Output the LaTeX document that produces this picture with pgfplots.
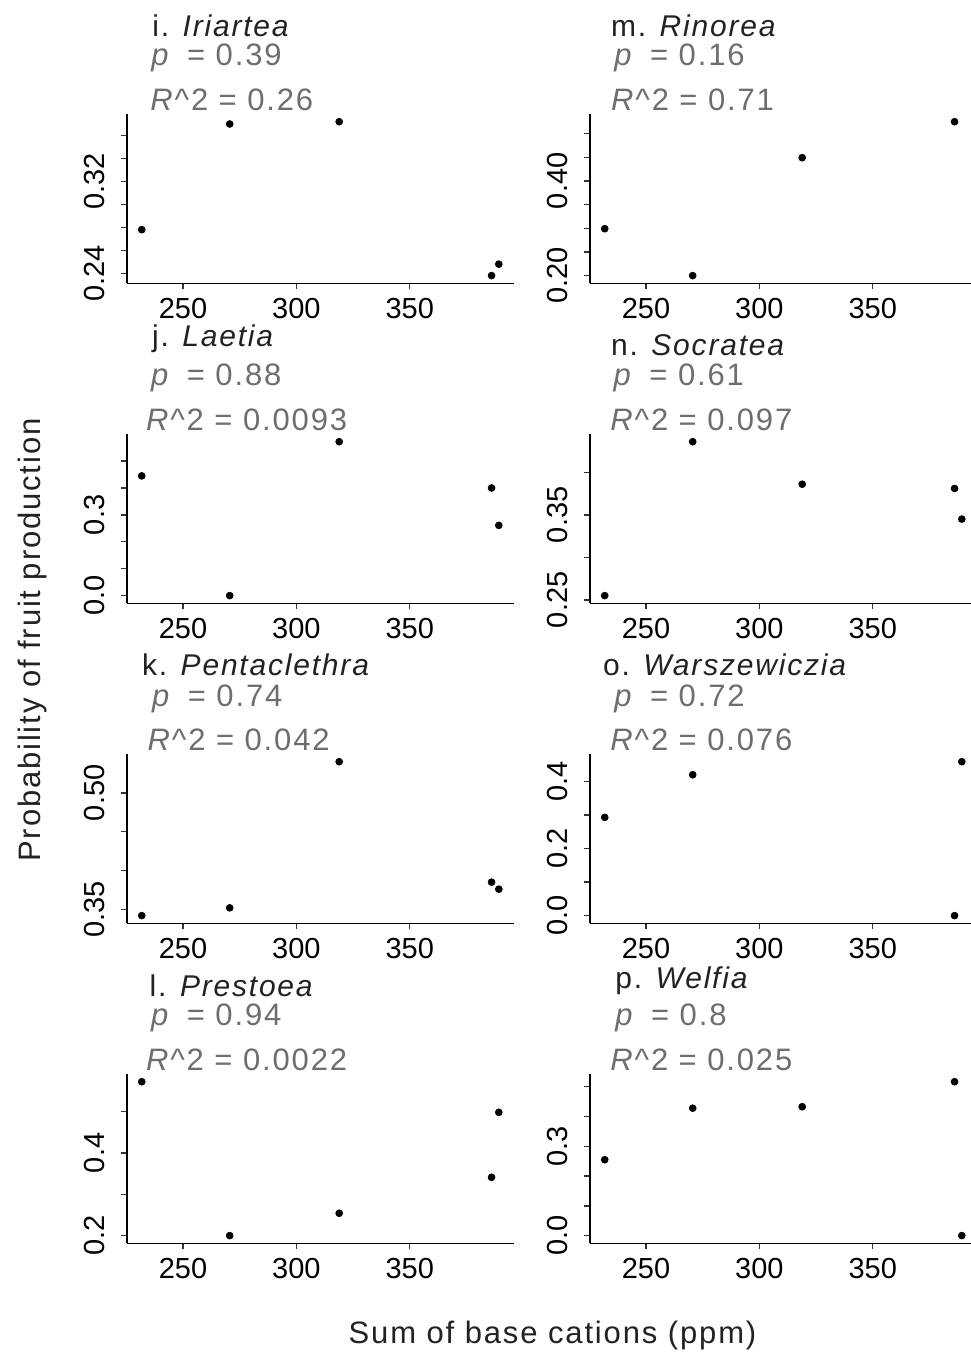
\documentclass[border=0pt]{standalone}
\usepackage{pgfplots}
\pgfplotsset{compat=1.18}
\usepackage{fontspec}
\setmainfont{Liberation Sans}
\newfontfamily\annfont{Liberation Sans}[LetterSpace=6]
\definecolor{anngray}{HTML}{6E6E6E}
\definecolor{titlegray}{HTML}{222222}
\definecolor{axgray}{HTML}{333333}

\pgfplotsset{
  panel/.style={
    scale only axis, width=193.5pt, height=84.65pt,
    xmin=225.3, xmax=396, enlarge y limits=0.05,
    axis x line*=bottom, axis y line*=left,
    axis line style={black, line width=0.8pt, -},
    tick style={axgray, line width=0.7pt},
    tick align=outside, major tick length=3pt,
    xtick={250,300,350}, xticklabels={250,300,350},
    ticklabel style={font=\fontsize{14.5}{16}\selectfont, text=black},
    /pgf/number format/assume math mode=true,
    xticklabel style={yshift=-1pt},
    yticklabel style={rotate=90, anchor=base, yshift=8.5pt},
    clip=false,
  },
  pts/.style={only marks, mark=*, mark size=1.7pt, black},
}
\newcommand{\ttl}[3]{\node[anchor=base west, inner sep=0pt, text=titlegray, font=\fontsize{15}{17}\annfont] at (#1*0.5pt, -#2*0.5pt) {#3};}
\newcommand{\ann}[3]{\node[anchor=base west, inner sep=0pt, text=anngray, font=\fontsize{15.5}{17}\annfont] at (#1*0.5pt, -#2*0.5pt) {#3};}

\begin{document}
\begin{tikzpicture}
\path[use as bounding box] (0,0) rectangle (485pt,-677.5pt);

% ---------- row 1 ----------
\begin{axis}[panel, at={(63.5pt,-141.65pt)}, anchor=south west,
  ytick={0.24,0.26,0.28,0.30,0.32,0.34,0.36}, yticklabels={0.24,,,,0.32,,}]
\addplot[pts] coordinates {(231.8,0.278) (270.6,0.370) (318.9,0.372) (386.1,0.238) (389.3,0.248)};
\end{axis}
\begin{axis}[panel, at={(295pt,-141.65pt)}, anchor=south west,
  ytick={0.20,0.25,0.30,0.35,0.40,0.45,0.50}, yticklabels={0.20,,,,0.40,,}]
\addplot[pts] coordinates {(231.8,0.299) (270.6,0.200) (318.9,0.449) (386.1,0.525)};
\end{axis}
% ---------- row 2 ----------
\begin{axis}[panel, at={(63.5pt,-301.65pt)}, anchor=south west,
  ytick={0,0.1,0.2,0.3,0.4,0.5}, yticklabels={0.0,,,0.3,,}]
\addplot[pts] coordinates {(231.8,0.445) (270.6,0.000) (318.9,0.572) (386.1,0.400) (389.3,0.261)};
\end{axis}
\begin{axis}[panel, at={(295pt,-301.65pt)}, anchor=south west,
  ytick={0.25,0.30,0.35,0.40}, yticklabels={0.25,,0.35,}]
\addplot[pts] coordinates {(231.8,0.255) (270.6,0.436) (318.9,0.386) (386.1,0.381) (389.3,0.345)};
\end{axis}
% ---------- row 3 ----------
\begin{axis}[panel, at={(63.5pt,-461.65pt)}, anchor=south west,
  ytick={0.35,0.40,0.45,0.50}, yticklabels={0.35,,,0.50}]
\addplot[pts] coordinates {(231.8,0.342) (270.6,0.352) (318.9,0.540) (386.1,0.385) (389.3,0.376)};
\end{axis}
\begin{axis}[panel, at={(295pt,-461.65pt)}, anchor=south west,
  ytick={0,0.1,0.2,0.3,0.4}, yticklabels={0.0,,0.2,,0.4}]
\addplot[pts] coordinates {(231.8,0.293) (270.6,0.420) (386.1,0.000) (389.3,0.459)};
\end{axis}
% ---------- row 4 ----------
\begin{axis}[panel, at={(63.5pt,-621.65pt)}, anchor=south west,
  ytick={0.2,0.3,0.4,0.5}, yticklabels={0.2,,0.4,}]
\addplot[pts] coordinates {(231.8,0.572) (270.6,0.200) (318.9,0.254) (386.1,0.341) (389.3,0.498)};
\end{axis}
\begin{axis}[panel, at={(295pt,-621.65pt)}, anchor=south west,
  ytick={0,0.1,0.2,0.3,0.4,0.5}, yticklabels={0.0,,,0.3,,}]
\addplot[pts] coordinates {(231.8,0.255) (270.6,0.428) (318.9,0.433) (386.1,0.517) (389.3,0.000)};
\end{axis}

% ---------- panel titles and statistics ----------
\ttl{152}{36}{i. \textit{Iriartea}}
\ann{151}{65.7}{\textit{p}\hspace{0.2em} = 0.39}
\ann{150}{110}{\textit{R}\textasciicircum 2 = 0.26}
\ttl{610.7}{36}{m. \textit{Rinorea}}
\ann{614}{65.7}{\textit{p}\hspace{0.2em} = 0.16}
\ann{610.7}{110}{\textit{R}\textasciicircum 2 = 0.71}

\ttl{151.7}{346.7}{j. \textit{Laetia}}
\ann{150.7}{385.7}{\textit{p}\hspace{0.2em} = 0.88}
\ann{145.7}{430}{\textit{R}\textasciicircum 2 = 0.0093}
\ttl{610.7}{355}{n. \textit{Socratea}}
\ann{613.3}{385.7}{\textit{p}\hspace{0.2em} = 0.61}
\ann{610}{430}{\textit{R}\textasciicircum 2 = 0.097}

\ttl{141.7}{675}{k. \textit{Pentaclethra}}
\ann{151.7}{706}{\textit{p}\hspace{0.2em} = 0.74}
\ann{147.3}{750}{\textit{R}\textasciicircum 2 = 0.042}
\ttl{602.7}{675}{o. \textit{Warszewiczia}}
\ann{614}{706}{\textit{p}\hspace{0.2em} = 0.72}
\ann{610}{750}{\textit{R}\textasciicircum 2 = 0.076}

\ttl{149.3}{996}{l. \textit{Prestoea}}
\ann{150.7}{1025.7}{\textit{p}\hspace{0.2em} = 0.94}
\ann{145.7}{1070}{\textit{R}\textasciicircum 2 = 0.0022}
\ttl{615}{988.3}{p. \textit{Welfia}}
\ann{615}{1025.7}{\textit{p}\hspace{0.2em} = 0.8}
\ann{610}{1070}{\textit{R}\textasciicircum 2 = 0.025}

% ---------- axis titles ----------
\node[anchor=base, inner sep=0pt, text=titlegray, font=\fontsize{15.5}{17}\annfont] at (276.25pt,-671.65pt) {Sum of base cations (ppm)};
\node[rotate=90, anchor=base, inner sep=0pt, text=titlegray, font=\fontsize{15.5}{17}\annfont] at (20pt,-320pt) {Probability of fruit production};
\end{tikzpicture}
\end{document}
